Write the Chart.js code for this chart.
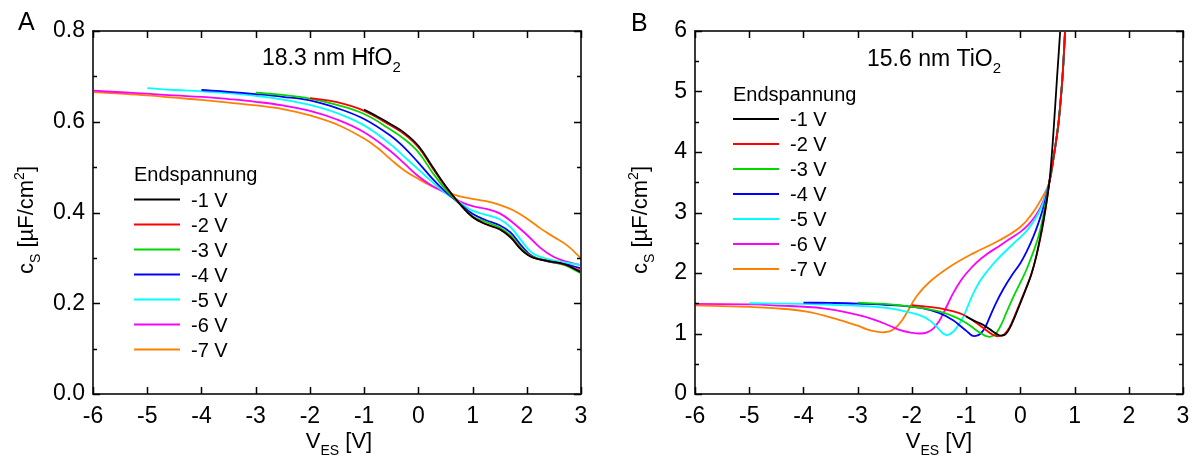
<!DOCTYPE html>
<html><head><meta charset="utf-8">
<script src="https://cdn.jsdelivr.net/npm/chart.js@4.4.1/dist/chart.umd.min.js"></script>
<style>
html,body{margin:0;padding:0;background:#fff;}
#wrap{position:relative;width:1194px;height:458px;overflow:hidden;}
.panel{position:absolute;top:0;height:458px;}
</style></head><body>
<div id="wrap">
<div class="panel" style="left:0;width:600px"><canvas id="cA"></canvas></div>
<div class="panel" style="left:600px;width:594px"><canvas id="cB"></canvas></div>
</div>
<script>
// ---------- DATA ----------
const seriesLabels = ['-1 V','-2 V','-3 V','-4 V','-5 V','-6 V','-7 V'];
const seriesColors = ['#000000','#ff0000','#00d800','#0000ff','#00ffff','#ff00ff','#ff8000'];

const xTicks = [-6,-5,-4,-3,-2,-1,0,1,2,3];
const yTicksA = [0,0.2,0.4,0.6,0.8];
const yMinorA = [0.1,0.3,0.5,0.7];
const yTicksB = [0,1,2,3,4,5,6];
const yMinorB = [0.5,1.5,2.5,3.5,4.5,5.5];

// Panel A: 18.3 nm HfO2
const hfX1 = [-1,-0.75,-0.5,-0.25,0,0.25,0.5,0.75,1.0,1.25,1.5,1.7,1.9,2.1,2.4,2.7,3.0];
const hfY1 = [0.627,0.611,0.594,0.575,0.547,0.503,0.459,0.421,0.390,0.374,0.363,0.345,0.318,0.301,0.293,0.286,0.268];
const hfX2 = [-2,-1.5,-1,-0.5,-0.25,0,0.25,0.5,0.75,1.0,1.25,1.5,1.7,1.9,2.1,2.4,2.7,3.0];
const hfY2 = [0.652,0.643,0.624,0.591,0.572,0.544,0.500,0.457,0.421,0.390,0.374,0.363,0.346,0.318,0.302,0.293,0.285,0.271];
const hfX3 = [-3,-2.5,-2,-1.5,-1,-0.5,-0.25,0,0.25,0.5,0.75,1.0,1.25,1.5,1.7,1.9,2.1,2.4,2.7,3.0];
const hfY3 = [0.664,0.659,0.651,0.637,0.617,0.582,0.561,0.533,0.490,0.451,0.420,0.392,0.379,0.367,0.350,0.321,0.303,0.293,0.284,0.266];
const hfX4 = [-4,-3.5,-3,-2.5,-2,-1.5,-1,-0.5,-0.25,0,0.25,0.5,0.75,1.0,1.25,1.5,1.7,1.9,2.1,2.4,2.7,3.0];
const hfY4 = [0.670,0.666,0.661,0.655,0.647,0.630,0.606,0.568,0.542,0.510,0.476,0.446,0.421,0.397,0.383,0.372,0.356,0.327,0.304,0.292,0.286,0.277];
const hfX5 = [-5,-4.5,-4,-3.5,-3,-2.5,-2,-1.5,-1,-0.5,-0.25,0,0.25,0.5,0.75,1.0,1.25,1.5,1.7,1.9,2.1,2.4,2.7,3.0];
const hfY5 = [0.674,0.670,0.667,0.663,0.657,0.649,0.637,0.619,0.592,0.549,0.522,0.495,0.468,0.443,0.423,0.404,0.395,0.385,0.368,0.338,0.311,0.297,0.290,0.284];
const hfX6 = [-6,-5.5,-5,-4.5,-4,-3.5,-3,-2.5,-2,-1.5,-1,-0.5,-0.25,0,0.25,0.5,0.75,1.0,1.25,1.5,1.75,2.0,2.25,2.5,2.75,3.0];
const hfY6 = [0.6685,0.665,0.662,0.658,0.655,0.650,0.644,0.636,0.624,0.605,0.577,0.534,0.507,0.480,0.459,0.443,0.425,0.414,0.408,0.398,0.377,0.351,0.322,0.302,0.291,0.284];
const hfX7 = [-6,-5.5,-5,-4.5,-4,-3.5,-3,-2.5,-2,-1.5,-1,-0.75,-0.5,-0.25,0,0.25,0.5,0.75,1.0,1.25,1.5,1.75,2.0,2.25,2.5,2.75,3.0];
const hfY7 = [0.6655,0.662,0.658,0.653,0.648,0.642,0.636,0.628,0.614,0.594,0.563,0.542,0.516,0.492,0.474,0.458,0.446,0.436,0.430,0.425,0.417,0.405,0.387,0.365,0.346,0.327,0.299];

// Panel B: 15.6 nm TiO2
const tiX1 = [-1,-0.8,-0.68,-0.5,-0.4,-0.34,-0.27,-0.2,-0.1,0,0.1,0.2,0.3,0.4,0.47,0.535,0.58,0.62,0.68,0.735,0.76];
const tiY1 = [1.28,1.19,1.14,1.03,0.975,0.965,0.99,1.08,1.28,1.50,1.73,1.97,2.30,2.74,3.10,3.5,3.95,4.45,5.27,6.0,6.4];
const tiX2 = [-2,-1.5,-1.25,-1.05,-0.85,-0.68,-0.5,-0.4,-0.3,-0.2,-0.1,0,0.1,0.2,0.3,0.41,0.47,0.535,0.62,0.7,0.74,0.78,0.825,0.845];
const tiY2 = [1.47,1.42,1.37,1.31,1.20,1.09,0.975,0.955,0.985,1.10,1.30,1.52,1.74,1.97,2.30,2.76,3.08,3.5,3.95,4.45,4.82,5.27,6.0,6.4];
const tiX3 = [-3,-2.5,-2.1,-1.8,-1.48,-1.2,-0.99,-0.85,-0.74,-0.59,-0.5,-0.44,-0.35,-0.25,-0.12,0,0.12,0.24,0.34,0.43,0.535,0.62,0.7,0.74,0.78,0.825,0.845];
const tiY3 = [1.51,1.49,1.455,1.42,1.36,1.27,1.17,1.08,1.01,0.947,0.965,1.01,1.15,1.36,1.62,1.84,2.07,2.35,2.62,2.98,3.5,3.95,4.45,4.82,5.27,6.0,6.4];
const tiX4 = [-4,-3.5,-3,-2.5,-2.2,-1.79,-1.5,-1.24,-1.1,-0.99,-0.92,-0.87,-0.8,-0.73,-0.65,-0.56,-0.44,-0.31,-0.15,0,0.12,0.24,0.35,0.45,0.535,0.62,0.7,0.74,0.78,0.825,0.845];
const tiY4 = [1.51,1.505,1.495,1.475,1.46,1.415,1.34,1.22,1.12,1.04,0.985,0.96,0.965,1.0,1.10,1.28,1.52,1.74,1.97,2.16,2.36,2.60,2.87,3.16,3.5,3.95,4.45,4.82,5.27,6.0,6.4];
const tiX5 = [-5,-4.5,-4,-3.33,-2.8,-2.4,-2.05,-1.79,-1.65,-1.55,-1.47,-1.41,-1.36,-1.31,-1.25,-1.19,-1.12,-1.05,-0.96,-0.87,-0.75,-0.62,-0.45,-0.25,-0.05,0.12,0.3,0.42,0.535,0.62,0.7,0.74,0.78,0.825,0.845];
const tiY5 = [1.50,1.495,1.49,1.47,1.45,1.415,1.35,1.28,1.20,1.12,1.04,0.99,0.975,0.985,1.02,1.08,1.17,1.28,1.47,1.66,1.86,2.02,2.20,2.38,2.55,2.70,2.93,3.15,3.5,3.95,4.45,4.82,5.27,6.0,6.4];
const tiX6 = [-6,-5,-4.56,-3.63,-3.02,-2.7,-2.4,-2.2,-2.0,-1.85,-1.72,-1.6,-1.5,-1.42,-1.33,-1.24,-1.1,-0.99,-0.8,-0.62,-0.4,-0.2,0,0.15,0.3,0.42,0.535,0.62,0.7,0.74,0.78,0.825,0.845];
const tiY6 = [1.49,1.48,1.466,1.416,1.31,1.23,1.124,1.05,1.012,1.0,1.02,1.086,1.2,1.334,1.50,1.664,1.87,2.0,2.18,2.31,2.44,2.56,2.68,2.80,2.97,3.18,3.5,3.95,4.45,4.82,5.27,6.0,6.4];
const tiX7 = [-6,-5,-4.56,-3.94,-3.33,-3.0,-2.83,-2.65,-2.53,-2.4,-2.28,-2.18,-2.1,-1.91,-1.67,-1.3,-0.87,-0.375,0,0.2,0.36,0.535,0.62,0.7,0.74,0.78,0.825,0.845];
const tiY7 = [1.466,1.44,1.42,1.36,1.223,1.13,1.069,1.03,1.02,1.04,1.112,1.22,1.334,1.62,1.856,2.104,2.325,2.545,2.76,2.96,3.18,3.5,3.95,4.45,4.82,5.27,6.0,6.4];

const hfXs = [hfX1,hfX2,hfX3,hfX4,hfX5,hfX6,hfX7];
const hfYs = [hfY1,hfY2,hfY3,hfY4,hfY5,hfY6,hfY7];
const tiXs = [tiX1,tiX2,tiX3,tiX4,tiX5,tiX6,tiX7];
const tiYs = [tiY1,tiY2,tiY3,tiY4,tiY5,tiY6,tiY7];

// ---------- RENDER ----------
const FONT = '"Liberation Sans", Arial, Helvetica, sans-serif';

function makeDatasets(xs, ys) {
  return xs.map((xa, k) => ({
    label: seriesLabels[k],
    data: xa.map((v, i) => ({x: v, y: ys[k][i]})),
    borderColor: seriesColors[k],
    backgroundColor: seriesColors[k],
    borderWidth: 1.8,
    pointRadius: 0,
    fill: false,
    tension: 0.4,
    clip: 0
  }));
}

function drawRich(ctx, parts, x, y, align) {
  let total = 0;
  parts.forEach(p => { ctx.font = p[1] + 'px ' + FONT; total += ctx.measureText(p[0]).width; });
  let cx = align === 'center' ? x - total / 2 : x;
  ctx.textAlign = 'left';
  ctx.textBaseline = 'alphabetic';
  ctx.fillStyle = '#000';
  parts.forEach(p => {
    ctx.font = p[1] + 'px ' + FONT;
    ctx.fillText(p[0], cx, y + (p[2] || 0));
    cx += ctx.measureText(p[0]).width;
  });
}

function decorPlugin(cfg) {
  return {
    id: 'decor' + cfg.id,
    afterDraw(chart) {
      const ctx = chart.ctx;
      const a = chart.chartArea;
      const xs = chart.scales.x, ys = chart.scales.y;
      ctx.save();
      ctx.strokeStyle = '#3a3a3a';
      ctx.lineWidth = 2;
      ctx.strokeRect(a.left, a.top, a.right - a.left, a.bottom - a.top);
      ctx.strokeStyle = '#000';
      ctx.lineWidth = 1.5;
      ctx.beginPath();
      xTicks.forEach(v => {
        const px = Math.round(xs.getPixelForValue(v)) + 0.5;
        ctx.moveTo(px, a.bottom); ctx.lineTo(px, a.bottom - 7);
        ctx.moveTo(px, a.top); ctx.lineTo(px, a.top + 7);
      });
      cfg.yMajor.forEach(v => {
        const py = Math.round(ys.getPixelForValue(v)) + 0.5;
        ctx.moveTo(a.left, py); ctx.lineTo(a.left + 7, py);
        ctx.moveTo(a.right, py); ctx.lineTo(a.right - 7, py);
      });
      cfg.yMinor.forEach(v => {
        const py = Math.round(ys.getPixelForValue(v)) + 0.5;
        ctx.moveTo(a.left, py); ctx.lineTo(a.left + 4, py);
        ctx.moveTo(a.right, py); ctx.lineTo(a.right - 4, py);
      });
      ctx.stroke();

      ctx.fillStyle = '#000';
      ctx.font = '25px ' + FONT;
      ctx.textAlign = 'left';
      ctx.textBaseline = 'alphabetic';
      ctx.fillText(cfg.letter, cfg.letterX, cfg.letterY);

      drawRich(ctx, [[cfg.annot, 23, 0], ['2', 15, 7]], cfg.annotX, cfg.annotY, 'left');

      drawRich(ctx, [['V', 22, 0], ['ES', 14, 7], [' [V]', 22, 0]], cfg.xTitleX, 448, 'center');

      ctx.save();
      ctx.translate(cfg.yTitleX, 220);
      ctx.rotate(-Math.PI / 2);
      drawRich(ctx, [['c', 22, 0], ['S', 14, 7], [' [\u00b5F/cm', 22, 0], ['2', 14, -9], [']', 22, 0]], 0, 0, 'center');
      ctx.restore();

      ctx.font = '20px ' + FONT;
      ctx.fillStyle = '#000';
      ctx.textAlign = 'left';
      ctx.fillText('Endspannung', cfg.legX, cfg.legTitleY);
      chart.data.datasets.forEach((ds, i) => {
        const y = cfg.legY0 + 25 * i;
        ctx.strokeStyle = ds.borderColor;
        ctx.lineWidth = 2;
        ctx.beginPath();
        ctx.moveTo(cfg.legX, y); ctx.lineTo(cfg.legX + 46, y);
        ctx.stroke();
        ctx.fillStyle = '#000';
        ctx.fillText(ds.label, cfg.legX + 57, y + 7);
      });
      ctx.restore();
    }
  };
}

function makeChart(canvasId, xs, ys, cfg) {
  return new Chart(document.getElementById(canvasId), {
    type: 'line',
    data: { datasets: makeDatasets(xs, ys) },
    options: {
      responsive: true,
      maintainAspectRatio: false,
      animation: false,
      devicePixelRatio: 1,
      layout: { padding: { top: 31, right: cfg.padRight, bottom: 0, left: 0 } },
      plugins: { legend: { display: false }, tooltip: { enabled: false } },
      scales: {
        x: {
          type: 'linear', min: -6, max: 3,
          grid: { display: false, drawTicks: false },
          border: { display: false },
          ticks: { font: { family: FONT, size: 23 }, color: '#000', padding: 9, maxRotation: 0,
                   callback: v => String(v) },
          afterBuildTicks: s => { s.ticks = xTicks.map(v => ({ value: v })); },
          afterFit: s => { s.height = 64; s.paddingLeft = 0; s.paddingRight = 0; }
        },
        y: {
          type: 'linear', min: cfg.yMin, max: cfg.yMax,
          grid: { display: false, drawTicks: false },
          border: { display: false },
          ticks: { font: { family: FONT, size: 23 }, color: '#000', padding: 8,
                   callback: cfg.yFmt },
          afterBuildTicks: s => { s.ticks = cfg.yMajor.map(v => ({ value: v })); },
          afterFit: s => { s.width = cfg.yWidth; s.paddingTop = 0; s.paddingBottom = 0; }
        }
      }
    },
    plugins: [decorPlugin(cfg)]
  });
}

makeChart('cA', hfXs, hfYs, {
  id: 'A', yMin: 0, yMax: 0.8, yMajor: yTicksA, yMinor: yMinorA,
  yFmt: v => Number(v).toFixed(1), yWidth: 93, padRight: 19,
  letter: 'A', letterX: 18, letterY: 30,
  annot: '18.3 nm HfO', annotX: 262, annotY: 65,
  xTitleX: 339, yTitleX: 33,
  legX: 134, legTitleY: 181, legY0: 199.5
});

makeChart('cB', tiXs, tiYs, {
  id: 'B', yMin: 0, yMax: 6, yMajor: yTicksB, yMinor: yMinorB,
  yFmt: v => String(v), yWidth: 95, padRight: 11,
  letter: 'B', letterX: 31, letterY: 31,
  annot: '15.6 nm TiO', annotX: 267, annotY: 66,
  xTitleX: 339, yTitleX: 47,
  legX: 133, legTitleY: 101, legY0: 119
});
</script>
</body></html>
